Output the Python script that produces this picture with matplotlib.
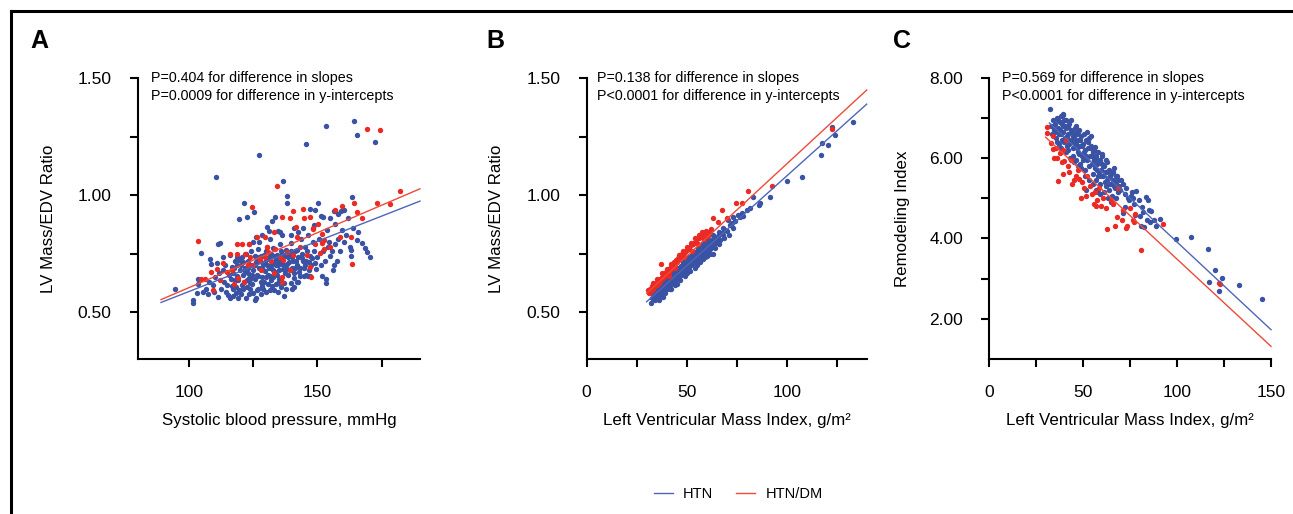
import numpy as np
import matplotlib.pyplot as plt
from matplotlib.lines import Line2D

plt.rcParams['font.family'] = ['Liberation Sans', 'DejaVu Sans']

BLUE = '#3a52a3'
RED = '#ec2a24'
BLUE_LINE = '#4d66b8'
RED_LINE = '#ee4a3a'

# Panel A: systolic BP vs LV mass/EDV ratio
a_htn = [
    (94.6, 0.600), (101.4, 0.551), (101.4, 0.540), (102.9, 0.580), (103.6, 0.618), (103.3, 0.640),
    (104.5, 0.751), (105.5, 0.584), (107.2, 0.575), (108.1, 0.725), (108.5, 0.705), (109.2, 0.614),
    (109.7, 0.587), (110.7, 0.708), (111.1, 0.789), (112.0, 0.796), (111.6, 0.665), (111.4, 0.566),
    (113.3, 0.736), (113.7, 0.630), (114.2, 0.587), (115.3, 0.573), (114.6, 0.615), (115.9, 0.744),
    (116.6, 0.694), (117.2, 0.665), (118.0, 0.637), (118.3, 0.608), (118.3, 0.580), (106.5, 0.600),
    (107.8, 0.628), (110.2, 0.650), (112.5, 0.598), (113.0, 0.680), (116.0, 0.560), (117.0, 0.598),
    (119.0, 0.560), (120.0, 0.578), (121.4, 0.965), (119.3, 0.896), (122.4, 0.907), (125.3, 0.929),
    (110.5, 1.076), (127.4, 1.171), (145.4, 1.217), (153.3, 1.294), (164.4, 1.316), (165.4, 1.258),
    (172.3, 1.225), (136.4, 1.061), (138.3, 0.996), (138.3, 0.967), (150.3, 0.967), (163.3, 0.993),
    (118.5, 0.735), (119.6, 0.722), (120.5, 0.736), (121.1, 0.715), (119.8, 0.680), (120.9, 0.658),
    (121.8, 0.687), (122.4, 0.637), (123.1, 0.665), (119.5, 0.595), (120.5, 0.615), (121.5, 0.630),
    (122.5, 0.605), (123.3, 0.645), (123.5, 0.575), (124.5, 0.620), (124.2, 0.700), (125.0, 0.680),
    (126.0, 0.715), (126.6, 0.660), (127.3, 0.690), (127.9, 0.630), (128.3, 0.650), (128.6, 0.600),
    (129.2, 0.745), (129.5, 0.675), (130.2, 0.700), (130.6, 0.620), (131.0, 0.735), (131.4, 0.655),
    (131.8, 0.690), (132.3, 0.610), (132.6, 0.775), (133.2, 0.715), (133.6, 0.670), (134.2, 0.745),
    (134.6, 0.700), (135.0, 0.640), (135.5, 0.790), (136.0, 0.725), (136.5, 0.685), (137.0, 0.625),
    (137.6, 0.765), (138.0, 0.705), (138.6, 0.660), (139.0, 0.740), (139.5, 0.795), (140.0, 0.690),
    (140.5, 0.720), (141.0, 0.645), (141.4, 0.760), (142.0, 0.700), (142.5, 0.735), (143.0, 0.670),
    (143.5, 0.810), (144.0, 0.750), (144.6, 0.690), (145.0, 0.780), (145.6, 0.720), (146.3, 0.655),
    (147.0, 0.740), (147.5, 0.700), (148.2, 0.800), (148.8, 0.760), (149.5, 0.685), (150.0, 0.735),
    (150.8, 0.810), (151.5, 0.700), (152.0, 0.760), (152.8, 0.720), (153.5, 0.640), (154.0, 0.780),
    (155.0, 0.740), (156.0, 0.680), (157.0, 0.790), (158.0, 0.810), (159.0, 0.760), (160.2, 0.800),
    (122.0, 0.750), (123.0, 0.720), (124.0, 0.760), (125.5, 0.740), (126.8, 0.770), (127.5, 0.720),
    (128.8, 0.705), (129.8, 0.760), (130.5, 0.780), (131.5, 0.810), (132.0, 0.700), (132.8, 0.650),
    (133.8, 0.700), (134.0, 0.620), (135.2, 0.680), (136.2, 0.750), (137.3, 0.700), (138.4, 0.735),
    (139.2, 0.680), (140.8, 0.665), (141.8, 0.720), (143.3, 0.690), (144.3, 0.720), (145.3, 0.700),
    (146.0, 0.760), (146.8, 0.680), (127.0, 0.600), (125.8, 0.640), (129.0, 0.630), (130.8, 0.660),
    (133.0, 0.595), (135.8, 0.605), (137.8, 0.600), (139.8, 0.625), (124.8, 0.580), (126.2, 0.560),
    (128.0, 0.575), (130.0, 0.585), (131.6, 0.595), (134.6, 0.585), (136.8, 0.570), (140.2, 0.600),
    (142.6, 0.630), (125.5, 0.550), (121.0, 0.600), (123.8, 0.600), (118.8, 0.700), (117.8, 0.720),
    (116.3, 0.640), (115.5, 0.660), (116.8, 0.610), (114.0, 0.700),
    (117.5, 0.690), (118.8, 0.655), (120.2, 0.700), (121.6, 0.675), (122.8, 0.690), (123.6, 0.625),
    (124.6, 0.660), (125.8, 0.700), (126.4, 0.735), (127.0, 0.655), (128.0, 0.740), (128.4, 0.690),
    (129.4, 0.715), (129.9, 0.650), (130.4, 0.725), (131.0, 0.690), (131.9, 0.750), (132.5, 0.680),
    (133.0, 0.740), (133.9, 0.725), (134.4, 0.660), (135.0, 0.715), (135.7, 0.760), (136.3, 0.705),
    (137.0, 0.740), (137.4, 0.665), (138.2, 0.685), (138.9, 0.715), (139.6, 0.760), (140.2, 0.735),
    (141.2, 0.690), (142.2, 0.765), (143.8, 0.730), (144.8, 0.655), (146.6, 0.715), (148.0, 0.730),
    (149.0, 0.710), (128.2, 0.610), (132.0, 0.635), (134.8, 0.625), (126.5, 0.595), (124.0, 0.645),
    (119.2, 0.635), (117.0, 0.570), (122.0, 0.560),
    (147.2, 0.940), (149.2, 0.935), (151.5, 0.910), (152.0, 0.905), (156.3, 0.930), (157.0, 0.930),
    (159.2, 0.930), (160.2, 0.935), (157.0, 0.875), (132.2, 0.890), (133.3, 0.905), (130.2, 0.865),
    (131.2, 0.845), (134.8, 0.845), (135.5, 0.840), (136.2, 0.830), (128.5, 0.830), (127.2, 0.800),
    (125.0, 0.800), (123.2, 0.790), (126.0, 0.820), (142.5, 0.840), (141.0, 0.860), (139.5, 0.830),
    (144.5, 0.860), (146.5, 0.830), (148.5, 0.870), (153.8, 0.850), (155.0, 0.900),
    (162.8, 0.780), (163.2, 0.765), (165.4, 0.808), (167.4, 0.795), (168.5, 0.775), (169.5, 0.755),
    (170.4, 0.735), (163.0, 0.740), (153.3, 0.623), (151.7, 0.655), (147.2, 0.655), (145.6, 0.660),
    (143.2, 0.655), (142.0, 0.630), (140.7, 0.605), (156.5, 0.700), (157.8, 0.720), (155.8, 0.760),
    (161.0, 0.830), (166.0, 0.840), (164.0, 0.860), (154.5, 0.800), (159.5, 0.850), (162.0, 0.900),
    (158.0, 0.920),
]
a_dm = [
    (103.4, 0.805), (104.5, 0.641), (108.4, 0.670), (111.0, 0.682), (113.3, 0.710), (115.9, 0.748),
    (118.5, 0.790), (120.5, 0.790), (123.5, 0.790), (124.5, 0.947), (126.4, 0.822), (129.4, 0.822),
    (130.3, 0.779), (132.9, 0.843), (134.3, 1.040), (136.1, 0.905), (139.4, 0.900), (140.3, 0.932),
    (141.6, 0.862), (144.3, 0.940), (144.9, 0.903), (147.2, 0.905), (148.1, 0.858), (150.4, 0.876),
    (151.7, 0.833), (151.7, 0.796), (152.4, 0.769), (152.4, 0.808), (157.0, 0.936), (159.0, 0.820),
    (159.7, 0.953), (163.2, 0.820), (163.3, 0.705), (164.4, 0.964), (165.4, 0.929), (167.4, 0.900),
    (173.4, 0.966), (178.2, 0.963), (182.3, 1.018), (169.3, 1.282), (174.3, 1.279),
    (118.8, 0.746), (121.8, 0.748), (123.8, 0.736), (123.1, 0.700), (127.7, 0.722), (129.6, 0.736),
    (130.9, 0.758), (133.3, 0.768), (135.5, 0.736), (136.5, 0.722), (138.1, 0.758), (140.3, 0.744),
    (142.0, 0.822), (143.3, 0.779), (147.2, 0.694), (147.4, 0.648), (148.2, 0.855), (151.1, 0.754),
    (119.2, 0.644), (116.6, 0.680), (112.0, 0.637), (114.6, 0.672), (121.4, 0.630), (133.1, 0.665),
    (136.3, 0.651), (139.4, 0.680), (136.1, 0.630), (109.4, 0.594), (106.0, 0.640), (117.5, 0.620),
    (125.0, 0.700), (131.8, 0.720), (128.0, 0.680), (145.8, 0.745), (149.0, 0.790), (155.0, 0.780),
]

# Panel B: LV mass index vs LV mass/EDV ratio
b_htn = [
    (32.2, 0.540), (32.5, 0.560), (33.0, 0.575), (33.5, 0.555), (34.0, 0.585), (34.5, 0.570),
    (35.0, 0.560), (35.0, 0.595), (35.5, 0.580), (36.0, 0.600), (36.0, 0.570), (36.5, 0.590),
    (37.0, 0.575), (37.0, 0.610), (37.5, 0.595), (38.0, 0.620), (38.0, 0.585), (38.5, 0.605),
    (39.0, 0.595), (39.0, 0.630), (39.5, 0.615), (40.0, 0.600), (40.0, 0.640), (40.5, 0.625),
    (41.0, 0.610), (41.0, 0.645), (41.5, 0.630), (42.0, 0.620), (42.0, 0.655), (42.5, 0.640),
    (43.0, 0.625), (43.0, 0.660), (43.5, 0.648), (44.0, 0.635), (44.0, 0.670), (44.5, 0.655),
    (45.0, 0.640), (45.0, 0.675), (45.5, 0.662), (46.0, 0.650), (46.0, 0.688), (46.5, 0.672),
    (47.0, 0.660), (47.0, 0.695), (47.5, 0.680), (48.0, 0.668), (48.0, 0.705), (48.5, 0.690),
    (49.0, 0.675), (49.0, 0.712), (49.5, 0.698), (50.0, 0.685), (50.0, 0.720), (50.5, 0.705),
    (51.0, 0.692), (51.0, 0.728), (51.5, 0.712), (52.0, 0.700), (52.0, 0.738), (52.5, 0.722),
    (53.0, 0.708), (53.0, 0.745), (53.5, 0.730), (54.0, 0.715), (54.0, 0.752), (54.5, 0.738),
    (55.0, 0.722), (55.0, 0.760), (55.5, 0.745), (56.0, 0.730), (56.0, 0.768), (56.5, 0.752),
    (57.0, 0.738), (57.0, 0.775), (57.5, 0.760), (58.0, 0.748), (58.0, 0.783), (58.5, 0.768),
    (59.0, 0.755), (59.0, 0.790), (59.5, 0.775), (60.0, 0.762), (60.0, 0.798), (61.0, 0.785),
    (61.5, 0.770), (62.0, 0.800), (62.5, 0.780), (63.3, 0.748), (63.0, 0.812), (64.0, 0.795),
    (64.5, 0.815), (65.0, 0.805), (65.5, 0.825), (66.7, 0.808), (67.5, 0.836), (68.0, 0.830),
    (69.0, 0.850), (70.0, 0.845), (70.8, 0.893), (72.5, 0.879), (73.3, 0.907), (74.0, 0.890),
    (75.8, 0.915), (76.5, 0.905), (77.5, 0.924), (78.0, 0.910), (80.0, 0.936), (81.6, 0.943),
    (83.3, 0.993), (86.2, 0.957), (86.7, 0.964), (91.6, 0.993), (100.0, 1.061), (107.8, 1.076),
    (117.0, 1.171), (117.5, 1.224), (120.5, 1.214), (122.8, 1.292), (124.2, 1.256), (133.3, 1.313),
    (62.5, 0.779), (55.0, 0.700), (58.0, 0.725), (60.0, 0.740), (45.0, 0.620), (50.0, 0.665),
    (38.0, 0.565), (42.0, 0.600), (36.0, 0.550),
    (34.0, 0.550), (36.5, 0.565), (39.0, 0.580), (41.5, 0.600), (44.0, 0.615), (46.5, 0.635),
    (49.0, 0.655), (51.5, 0.675), (54.0, 0.690), (56.5, 0.715), (59.0, 0.735), (61.5, 0.750),
    (64.0, 0.775), (66.0, 0.790), (68.5, 0.815), (71.0, 0.830), (73.0, 0.860), (33.0, 0.590),
    (35.5, 0.605), (38.0, 0.630), (40.5, 0.650), (43.0, 0.672), (45.5, 0.690), (48.0, 0.715),
    (50.5, 0.735), (53.0, 0.755), (55.5, 0.772), (58.0, 0.795), (60.5, 0.810), (63.0, 0.830),
    (66.0, 0.840), (68.0, 0.860), (71.5, 0.870),
]
b_dm = [
    (30.8, 0.594), (31.0, 0.580), (31.5, 0.600), (32.0, 0.590), (32.5, 0.610), (33.0, 0.600),
    (33.5, 0.620), (34.0, 0.610), (34.5, 0.625), (35.0, 0.615), (35.5, 0.635), (36.0, 0.625),
    (36.5, 0.640), (37.0, 0.705), (37.0, 0.635), (37.5, 0.650), (38.0, 0.645), (38.5, 0.660),
    (39.0, 0.655), (39.5, 0.670), (40.0, 0.665), (40.5, 0.680), (41.0, 0.672), (41.5, 0.690),
    (42.0, 0.685), (42.5, 0.700), (43.0, 0.695), (43.5, 0.712), (44.0, 0.705), (44.5, 0.722),
    (45.0, 0.715), (45.5, 0.732), (46.0, 0.725), (46.5, 0.742), (47.0, 0.735), (47.5, 0.750),
    (48.0, 0.745), (49.0, 0.755), (50.0, 0.765), (51.0, 0.772), (52.0, 0.785), (53.0, 0.790),
    (54.0, 0.800), (55.0, 0.810), (56.0, 0.815), (57.0, 0.820), (58.0, 0.825), (59.0, 0.830),
    (60.0, 0.835), (61.0, 0.842), (63.0, 0.900), (65.8, 0.886), (67.5, 0.936), (70.0, 0.903),
    (74.7, 0.964), (77.5, 0.964), (80.8, 1.017), (92.8, 1.038), (122.8, 1.281), (52.5, 0.760),
    (55.5, 0.790), (58.5, 0.810), (44.0, 0.690), (41.0, 0.655), (48.5, 0.735),
    (33.0, 0.625), (35.0, 0.640), (37.5, 0.665), (40.0, 0.685), (42.0, 0.705), (46.0, 0.745),
    (48.0, 0.760), (50.0, 0.780), (52.0, 0.795), (54.0, 0.815), (56.0, 0.830), (57.5, 0.840),
    (59.5, 0.845), (62.0, 0.855), (60.5, 0.825),
]

# Panel C: LV mass index vs remodeling index
c_htn = [
    (32.4, 7.23), (33.0, 6.80), (33.5, 6.60), (34.0, 6.95), (34.5, 6.70), (35.0, 6.85), (35.5, 6.50),
    (36.0, 7.00), (36.5, 6.75), (37.0, 6.60), (37.5, 6.90), (38.0, 7.05), (38.5, 6.45), (39.0, 6.80),
    (39.5, 6.65), (40.0, 6.95), (40.5, 6.50), (41.0, 6.75), (41.5, 6.30), (42.0, 6.60), (42.5, 6.85),
    (43.0, 6.45), (43.5, 6.95), (44.0, 6.65), (44.5, 6.25), (45.0, 6.50), (45.5, 6.75), (46.0, 6.35),
    (46.5, 6.60), (47.0, 6.15), (47.5, 6.45), (48.0, 6.70), (48.5, 6.30), (49.0, 6.55), (49.5, 6.05),
    (50.0, 6.35), (50.5, 6.60), (51.0, 6.20), (51.5, 6.45), (52.0, 5.95), (52.5, 6.25), (53.0, 6.50),
    (53.5, 6.05), (54.0, 6.30), (54.5, 5.85), (55.0, 6.15), (55.5, 5.95), (56.0, 6.25), (56.5, 5.75),
    (57.0, 6.05), (57.5, 5.85), (58.0, 6.15), (58.5, 5.65), (59.0, 5.95), (59.5, 5.70), (60.0, 5.85),
    (60.5, 5.55), (61.0, 5.80), (61.5, 5.40), (62.0, 5.65), (62.5, 5.90), (63.0, 5.50), (64.0, 5.70),
    (64.5, 5.35), (65.0, 5.60), (66.0, 5.45), (66.5, 5.75), (67.0, 5.25), (68.0, 5.55), (69.0, 5.30),
    (70.0, 5.45), (71.2, 4.63), (72.4, 4.79), (74.4, 4.96), (75.6, 5.05), (76.5, 5.00), (77.8, 4.59),
    (78.3, 5.19), (79.5, 4.95), (81.2, 4.79), (82.2, 4.29), (81.0, 4.30), (83.7, 5.04), (84.5, 4.95),
    (85.8, 4.40), (86.3, 4.69), (91.1, 4.49), (99.3, 3.98), (107.3, 4.04), (116.4, 3.73), (116.9, 2.92),
    (120.1, 3.22), (122.3, 2.69), (123.7, 3.02), (132.8, 2.83), (145.0, 2.49),
    (38.0, 6.60), (40.0, 6.40), (42.0, 6.20), (44.0, 6.40), (46.0, 6.80), (48.0, 6.10), (50.0, 5.95),
    (52.0, 6.65), (54.0, 6.55), (56.0, 5.95), (58.0, 5.55), (60.0, 6.10), (62.0, 5.30), (44.5, 6.05),
    (41.0, 6.95), (39.0, 7.10), (37.0, 6.35), (46.0, 5.95), (48.5, 5.85), (51.0, 5.70), (53.0, 5.80),
    (55.0, 5.60), (57.0, 5.45), (59.0, 5.35), (61.0, 5.15), (63.5, 5.20), (65.5, 5.05), (67.5, 5.00),
    (62.0, 5.95), (60.0, 6.05), (66.0, 5.65), (67.5, 5.55), (68.5, 5.15),
    (34.0, 6.80), (35.0, 6.65), (36.5, 6.95), (37.5, 6.70), (38.5, 6.85), (39.5, 6.45), (40.5, 6.80),
    (41.5, 6.55), (42.5, 6.35), (43.5, 6.70), (44.5, 6.55), (45.5, 6.40), (46.5, 6.25), (47.5, 6.65),
    (48.5, 6.45), (49.5, 6.30), (50.5, 6.15), (51.5, 6.05), (52.5, 6.40), (53.5, 6.25), (54.5, 6.05),
    (55.5, 6.20), (56.5, 6.00), (57.5, 5.70), (58.5, 5.95), (59.5, 5.55), (60.5, 5.80), (61.5, 5.65),
    (62.5, 5.45), (63.5, 5.65), (64.5, 5.55), (65.5, 5.35), (66.5, 5.30), (67.5, 5.40), (68.5, 5.45),
    (69.5, 5.20), (71.0, 5.35), (72.0, 5.10), (73.0, 5.25), (74.0, 5.00), (76.0, 5.15), (77.0, 4.85),
    (80.0, 4.55), (82.0, 4.65), (84.0, 4.45), (85.0, 4.70), (87.5, 4.45), (88.5, 4.30),
    (45.0, 5.90), (47.0, 5.80), (49.0, 5.75), (51.6, 5.20), (51.0, 5.55), (53.0, 5.45), (55.0, 5.35),
    (57.8, 5.17), (57.0, 5.20), (59.0, 5.10), (43.0, 6.00), (41.0, 6.15), (63.0, 5.00), (65.0, 4.90),
    (39.2, 7.08), (41.8, 6.79), (46.3, 6.62), (56.1, 6.29), (36.0, 6.40), (38.0, 6.25),
]
c_dm = [
    (30.8, 6.78), (30.8, 6.63), (33.0, 6.38), (33.8, 6.22), (34.7, 6.01), (37.4, 6.14), (40.0, 5.93),
    (41.8, 5.81), (46.3, 5.56), (48.0, 5.48), (53.4, 5.32), (56.1, 5.15), (36.8, 5.43), (56.9, 4.80),
    (48.9, 5.02), (51.3, 5.05), (64.9, 4.95), (68.0, 4.54), (71.2, 4.71), (76.5, 4.46), (77.6, 4.62),
    (62.8, 4.23), (67.2, 4.32), (72.9, 4.26), (73.5, 4.30), (80.6, 3.72), (92.5, 4.37), (122.3, 2.89),
    (122.6, 2.86), (35.5, 6.25), (36.0, 6.00), (38.5, 5.90), (39.0, 6.20), (42.5, 5.65), (43.5, 5.95),
    (45.0, 5.45), (47.0, 5.70), (49.5, 5.40), (50.5, 5.25), (52.0, 5.55), (54.5, 5.10), (55.5, 4.85),
    (57.5, 4.95), (58.5, 5.25), (59.5, 4.80), (60.5, 5.00), (62.0, 4.75), (66.0, 4.85), (68.5, 5.25),
    (70.5, 4.45), (75.0, 4.75), (77.0, 4.40), (39.5, 5.60), (44.0, 5.35), (41.0, 6.45), (34.0, 6.55),
]

# fitted lines: (intercept, slope, x_start, x_end)
a_fit_htn = (0.159, 0.00429, 89, 190)
a_fit_dm = (0.1356, 0.00469, 89, 190)
b_fit_htn = (0.3136, 0.00768, 30, 140)
b_fit_dm = (0.343, 0.0079, 30, 140)
c_fit_htn = (8.28, -0.0437, 32, 150)
c_fit_dm = (7.83, -0.04347, 30, 150)

p_texts = [
    ("P=0.404 for difference in slopes", "P=0.0009 for difference in y-intercepts"),
    ("P=0.138 for difference in slopes", "P<0.0001 for difference in y-intercepts"),
    ("P=0.569 for difference in slopes", "P<0.0001 for difference in y-intercepts"),
]

fig = plt.figure(figsize=(12.93, 5.14), dpi=100)

# outer frame (only top and left edges are inside the picture)
fig.add_artist(Line2D([11 / 1293, 11 / 1293], [0, 1 - 11 / 514], transform=fig.transFigure, color='black', lw=2.2))
fig.add_artist(Line2D([11 / 1293, 1], [1 - 11 / 514, 1 - 11 / 514], transform=fig.transFigure, color='black', lw=2.2))

bottom = 0.302
height = 0.848 - 0.302
ax_a = fig.add_axes([0.1067, bottom, 0.2181, height])
ax_b = fig.add_axes([0.4537, bottom, 0.2166, height])
ax_c = fig.add_axes([0.7651, bottom, 0.2179, height])


def style(ax):
    for s in ['top', 'right']:
        ax.spines[s].set_visible(False)
    for s in ['left', 'bottom']:
        ax.spines[s].set_linewidth(1.5)
    ax.tick_params(width=1.5, length=6, pad=13, labelsize=12.5)


def draw(ax, htn, dm, fit_htn, fit_dm):
    h = np.array(htn).T
    d = np.array(dm).T
    ax.scatter(h[0], h[1], s=15, color=BLUE, linewidths=0, zorder=2)
    ax.scatter(d[0], d[1], s=15, color=RED, linewidths=0, zorder=2)
    for fit, col in [(fit_htn, BLUE_LINE), (fit_dm, RED_LINE)]:
        xs = np.array([fit[2], fit[3]])
        ax.plot(xs, fit[0] + fit[1] * xs, color=col, lw=1.0, zorder=3, clip_on=False)


draw(ax_a, a_htn, a_dm, a_fit_htn, a_fit_dm)
draw(ax_b, b_htn, b_dm, b_fit_htn, b_fit_dm)
draw(ax_c, c_htn, c_dm, c_fit_htn, c_fit_dm)

for ax in [ax_a, ax_b, ax_c]:
    style(ax)

ax_a.set_xlim(80, 190)
ax_a.set_ylim(0.30, 1.50)
ax_a.set_xticks([100, 125, 150, 175])
ax_a.set_xticklabels(['100', '', '150', ''])
ax_b.set_xlim(0, 140)
ax_b.set_ylim(0.30, 1.50)
ax_b.set_xticks([0, 25, 50, 75, 100, 125])
ax_b.set_xticklabels(['0', '', '50', '', '100', ''])
for ax in [ax_a, ax_b]:
    ax.set_yticks([0.5, 0.75, 1.0, 1.25, 1.5])
    ax.set_yticklabels(['0.50', '', '1.00', '', '1.50'])
    ax.set_ylabel('LV Mass/EDV Ratio', fontsize=12.2)

ax_c.set_xlim(0, 150)
ax_c.set_ylim(1, 8)
ax_c.set_xticks([0, 25, 50, 75, 100, 125, 150])
ax_c.set_xticklabels(['0', '', '50', '', '100', '', '150'])
ax_c.set_yticks([2, 3, 4, 5, 6, 7, 8])
ax_c.set_yticklabels(['2.00', '', '4.00', '', '6.00', '', '8.00'])
ax_c.set_ylabel('Remodeling Index', fontsize=12.2)

ax_a.set_xlabel('Systolic blood pressure, mmHg', fontsize=12.2)
ax_b.set_xlabel('Left Ventricular Mass Index, g/m²', fontsize=12.2)
ax_c.set_xlabel('Left Ventricular Mass Index, g/m²', fontsize=12.2)

for ax, ylx, tx, (l1, l2) in zip([ax_a, ax_b, ax_c], [-0.29, -0.295, -0.28], [0.046, 0.036, 0.046], p_texts):
    ax.yaxis.set_label_coords(ylx, 0.5)
    ax.xaxis.set_label_coords(0.5, -0.195)
    ax.text(tx, 1.0, l1, transform=ax.transAxes, fontsize=10.3, va='center', ha='left')
    ax.text(tx, 0.936, l2, transform=ax.transAxes, fontsize=10.3, va='center', ha='left')

for letter, x in [('A', 39), ('B', 495), ('C', 902)]:
    fig.text(x / 1293, 1 - 41 / 514, letter, fontsize=18, fontweight='bold', ha='center', va='center')

handles = [Line2D([], [], color=BLUE_LINE, lw=1.0), Line2D([], [], color=RED_LINE, lw=1.0)]
fig.legend(handles, ['HTN', 'HTN/DM'], loc='center', bbox_to_anchor=(0.571, 0.039), ncol=2,
           frameon=False, fontsize=10.5, handlelength=1.3, columnspacing=1.6, handletextpad=0.7)

fig.savefig('out.png', dpi=100)
